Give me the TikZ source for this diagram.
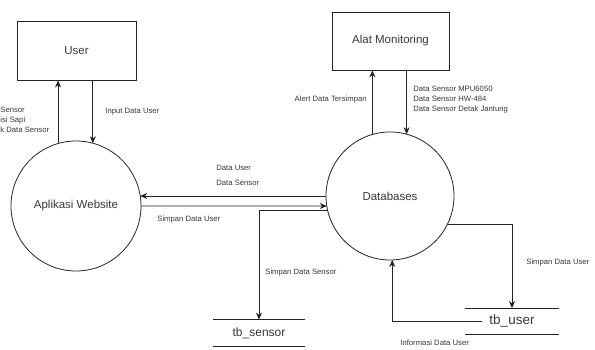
\documentclass[tikz,border=0pt]{standalone}
\usepackage{fontspec}
\setmainfont{Liberation Sans}
\usetikzlibrary{arrows.meta}
\definecolor{dfdline}{RGB}{35,35,35}
\definecolor{dfdtext}{RGB}{55,55,55}

\begin{document}
\begin{tikzpicture}[x=1pt, y=-1pt, line width=0.8pt,
  entity/.style={draw=dfdline, text=dfdtext, minimum width=119pt, minimum height=59pt, font=\fontsize{11.5}{14}\selectfont},
  process/.style={draw=dfdline, circle, text=dfdtext, inner sep=0pt, outer sep=0pt, font=\fontsize{11.5}{14}\selectfont},
  store/.style={text=dfdtext, minimum width=94pt, minimum height=25pt, inner sep=0pt, font=\fontsize{12}{14}\selectfont},
  flow/.style={draw=dfdline, -{Stealth[length=7pt,width=6pt]}},
  lbl/.style={text=dfdtext, inner sep=0pt, align=left, font=\fontsize{7.7}{10}\selectfont}]
  \useasboundingbox (0,0) rectangle (595,350);

  % Entities
  \node[entity] (user) at (76.5,50.5) {User};
  \node[entity, minimum width=117pt, minimum height=58pt] (alat) at (390.5,41) {Alat Monitoring};

  % Processes
  \node[process, minimum size=130pt] (app) at (76,206) {Aplikasi Website};
  \node[process, minimum size=128pt] (db) at (390,196) {Databases};

  % Data stores
  \node[store, minimum width=92pt, minimum height=26pt] (tbsensor) at (259,333) {tb\_sensor};
  \node[store, font=\fontsize{13.5}{16}\selectfont] (tbuser) at (512,321) {tb\_user};
  \draw[dfdline] (tbsensor.north west) -- (tbsensor.north east) (tbsensor.south west) -- (tbsensor.south east);
  \draw[dfdline] (tbuser.north west) -- (tbuser.north east) (tbuser.south west) -- (tbuser.south east);

  % Flows
  \draw[flow] (app.106) -- (app.106 |- user.south);
  \draw[flow] (user.south -| app.75) -- (app.75);
  \draw[flow] (db.west) -- (db.west -| app.9);
  \draw[flow] (app.east) -- (db.189);
  \draw[flow] (db.193) -| (tbsensor.north);
  \draw[flow] (db.106) -- (db.106 |- alat.south);
  \draw[flow] (alat.south -| db.75) -- (db.75);
  \draw[flow] (db.334) -| (tbuser.north);
  \draw[flow] ([xshift=-30pt]tbuser.center) -| (db.272);

  % Labels
  \node[lbl, anchor=west] (lblsensor) at (0,120) {Sensor\\isi Sapi\\k Data Sensor};
  \node[lbl, anchor=west] (lblinput) at (105,112) {Input Data User};
  \node[lbl, anchor=east] (lblalert) at (367,100) {Alert Data Tersimpan};
  \node[lbl, anchor=west] (lblmon) at (413,100) {Data Sensor MPU6050\\Data Sensor HW-484\\Data Sensor Detak Jantung};
  \node[lbl, anchor=west] (lbldata) at (216,175.5) {Data User\\[5pt]Data Sensor};
  \node[lbl, anchor=west] (lblsimpanuser) at (157,220) {Simpan Data User};
  \node[lbl, anchor=west] (lblsimpansensor) at (265,273) {Simpan Data Sensor};
  \node[lbl, anchor=west] (lblsimpanuser2) at (526,263) {Simpan Data User};
  \node[lbl, anchor=west] (lblinfo) at (400,343) {Informasi Data User};
\end{tikzpicture}
\end{document}
